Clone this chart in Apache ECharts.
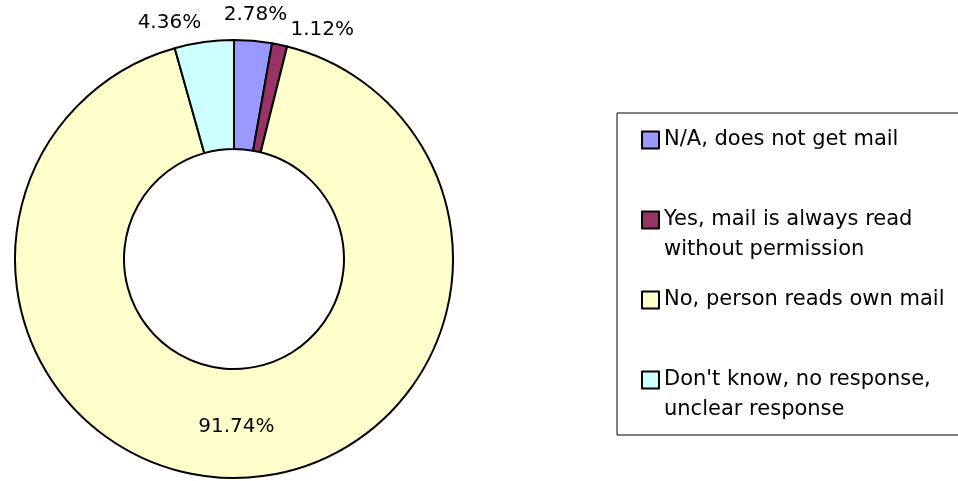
<!DOCTYPE html>
<html>
<head>
<meta charset="utf-8">
<script src="https://cdn.jsdelivr.net/npm/echarts@6/dist/echarts.min.js"></script>
<style>
  html, body { margin: 0; padding: 0; background: #fff; }
  #main { width: 958px; height: 481px; }
</style>
</head>
<body>
<div id="main"></div>
<script>
// categories and values (percent)
const categories = [
  'N/A, does not get mail',
  'Yes, mail is always read\nwithout permission',
  'No, person reads own mail',
  "Don't know, no response,\nunclear response"
]
const values = [2.78, 1.12, 91.74, 4.36]
const colors = ['#9999FF', '#993366', '#FFFFCC', '#CCFFFF']
// labels inside the ring or outside it
const labelPos = ['outside', 'outside', 'inside', 'outside']
// small nudges so the outside labels sit like the original
const labelNudge = [[0, 1], [37, 11], [0, 0], [-31, 7]]

const chart = echarts.init(document.getElementById('main'))

const font = 'DejaVu Sans'

const option = {
  animation: false,
  legend: {
    orient: 'vertical',
    left: 617,
    top: 113,
    padding: [12, 40, 10, 24],
    borderColor: '#000',
    borderWidth: 1,
    itemWidth: 17,
    itemHeight: 17,
    itemGap: 20,
    icon: 'rect',
    itemStyle: { borderColor: '#000', borderWidth: 2 },
    textStyle: {
      fontFamily: font,
      fontSize: 21,
      lineHeight: 30,
      color: '#000'
    },
    // two-line names get an empty first line so the real first line
    // sits level with the colour box
    formatter: name => name.indexOf('\n') >= 0 ? '\u00a0\n' + name : name,
    data: categories
  },
  series: [{
    type: 'pie',
    center: [234, 259],
    radius: [110, 219],
    startAngle: 90,
    clockwise: true,
    avoidLabelOverlap: false,
    itemStyle: { borderColor: '#000', borderWidth: 2 },
    emphasis: { disabled: true },
    label: {
      show: true,
      formatter: p => p.value.toFixed(2) + '%',
      fontFamily: font,
      fontSize: 20,
      color: '#000',
      distanceToLabelLine: 0
    },
    labelLine: { show: false, length: 27, length2: 0 },
    labelLayout: p => {
      if (labelPos[p.dataIndex] !== 'outside') return {}
      const r = p.labelRect
      let ax = r.x
      if (p.align === 'right') ax = r.x + r.width
      else if (p.align === 'center') ax = r.x + r.width / 2
      return {
        x: ax + labelNudge[p.dataIndex][0],
        y: r.y + r.height / 2 + labelNudge[p.dataIndex][1],
        align: 'center',
        verticalAlign: 'middle'
      }
    },
    data: categories.map((c, i) => ({
      name: c,
      value: values[i],
      itemStyle: { color: colors[i] },
      label: { position: labelPos[i] }
    }))
  }]
}

chart.setOption(option)
</script>
</body>
</html>
